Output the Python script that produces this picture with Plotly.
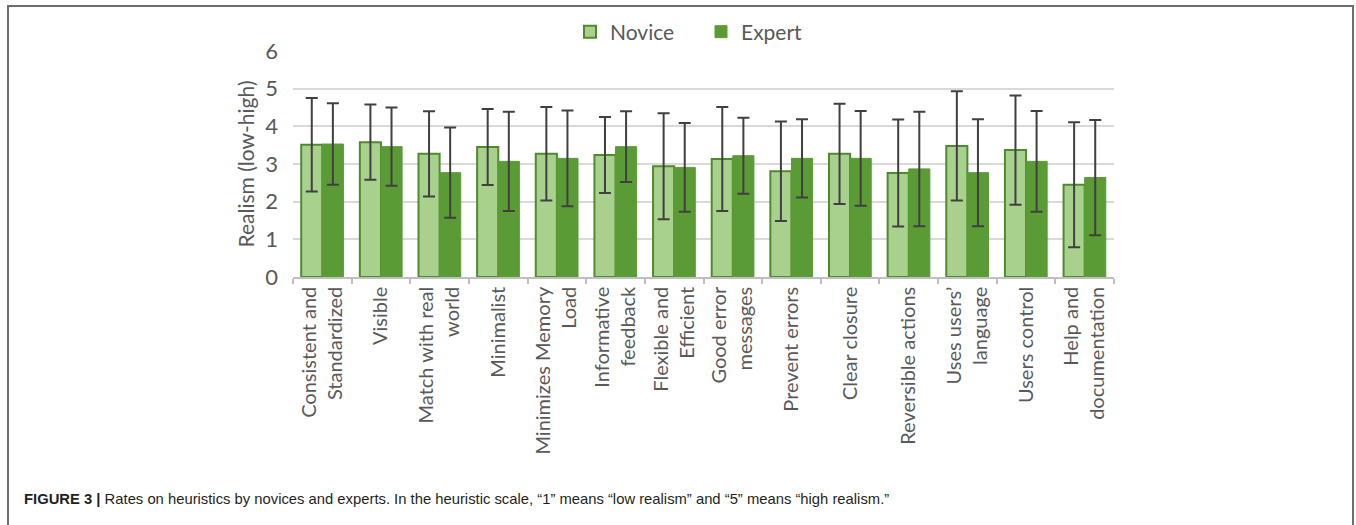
import plotly.graph_objects as go

categories = [
    "Consistent and<br>Standardized", "Visible", "Match with real<br>world", "Minimalist",
    "Minimizes Memory<br>Load", "Informative<br>feedback", "Flexible and<br>Efficient",
    "Good error<br>messages", "Prevent errors", "Clear closure", "Reversible actions",
    "Uses users’<br>language", "Users control", "Help and<br>documentation",
]
novice_mean = [3.51, 3.58, 3.27, 3.45, 3.27, 3.24, 2.94, 3.13, 2.81, 3.27, 2.76, 3.48, 3.37, 2.45]
novice_sd = [1.24, 1.00, 1.13, 1.01, 1.24, 1.01, 1.41, 1.38, 1.32, 1.33, 1.42, 1.45, 1.45, 1.66]
expert_mean = [3.53, 3.46, 2.77, 3.07, 3.15, 3.46, 2.91, 3.22, 3.15, 3.15, 2.87, 2.77, 3.07, 2.64]
expert_sd = [1.08, 1.04, 1.20, 1.32, 1.27, 0.94, 1.18, 1.01, 1.04, 1.26, 1.52, 1.42, 1.34, 1.53]
y_ticks = [0, 1, 2, 3, 4, 5, 6]

# plot area in pixels
L, R, T, B = 293, 1114, 51, 277
W, H = R - L, B - T
def px(x):
    return (x - L) / W
def py(y):
    return (B - y) / H

fig = go.Figure()
fig.add_trace(go.Bar(
    name="Novice", x=categories, y=novice_mean,
    marker=dict(color="#a9d18e", line=dict(color="#4f8a2c", width=2)),
    error_y=dict(type="data", array=novice_sd, color="#404040", thickness=2, width=6),
))
fig.add_trace(go.Bar(
    name="Expert", x=categories, y=expert_mean,
    marker=dict(color="#5b9b35", line=dict(color="#5b9b35", width=1)),
    error_y=dict(type="data", array=expert_sd, color="#404040", thickness=2, width=6),
))

font_family = "Lato, 'Open Sans', sans-serif"
fig.update_layout(
    width=1356, height=525,
    margin=dict(l=L, r=1356 - R, t=T, b=525 - B, autoexpand=False),
    paper_bgcolor="white", plot_bgcolor="white",
    barmode="group", bargap=0.28, bargroupgap=0,
    font=dict(family=font_family, color="#595959"),
    showlegend=True,
    legend=dict(orientation="h", x=px(570), xanchor="left", y=py(32), yanchor="middle",
                font=dict(size=21, color="#595959"), bgcolor="rgba(0,0,0,0)",
                itemwidth=30, tracegroupgap=0, entrywidth=86),
    xaxis=dict(
        type="category", tickangle=-90, tickfont=dict(size=20, color="#595959", family=font_family),
        showline=True, linecolor="#bfbfbf", linewidth=1.5,
        ticks="outside", tickson="boundaries", ticklen=5, tickcolor="#bfbfbf", tickwidth=1.5,
        showgrid=False, automargin=False,
    ),
    yaxis=dict(
        range=[0, 6], tickvals=y_ticks, ticktext=[str(v) for v in y_ticks],
        tickfont=dict(size=22, color="#595959", family=font_family),
        showgrid=True, gridcolor="#d9d9d9", gridwidth=1.5,
        zeroline=False, showline=False, ticks="", ticklabelstandoff=14,
        title=dict(text="Realism (low-high)", font=dict(size=21, color="#595959", family=font_family),
                   standoff=4),
        automargin=False,
    ),
    shapes=[dict(type="rect", xref="paper", yref="paper",
                 x0=px(8), x1=px(1353), y0=py(540), y1=py(6),
                 line=dict(color="#6e6e6e", width=2), fillcolor="rgba(0,0,0,0)", layer="above")],
    annotations=[dict(
        xref="paper", yref="paper", x=px(22), y=py(499), xanchor="left", yanchor="middle",
        showarrow=False,
        text="<b>FIGURE 3 |</b> Rates on heuristics by novices and experts. In the heuristic scale, “1” means “low realism” and “5” means “high realism.”",
        font=dict(family="'Liberation Sans Narrow', 'Liberation Sans', Arial, sans-serif", size=14.8, color="#231f20"),
    )],
)

fig.write_html("out.html", config={"displayModeBar": False},
               post_script="document.body.style.margin='0';document.body.style.overflow='hidden';")
